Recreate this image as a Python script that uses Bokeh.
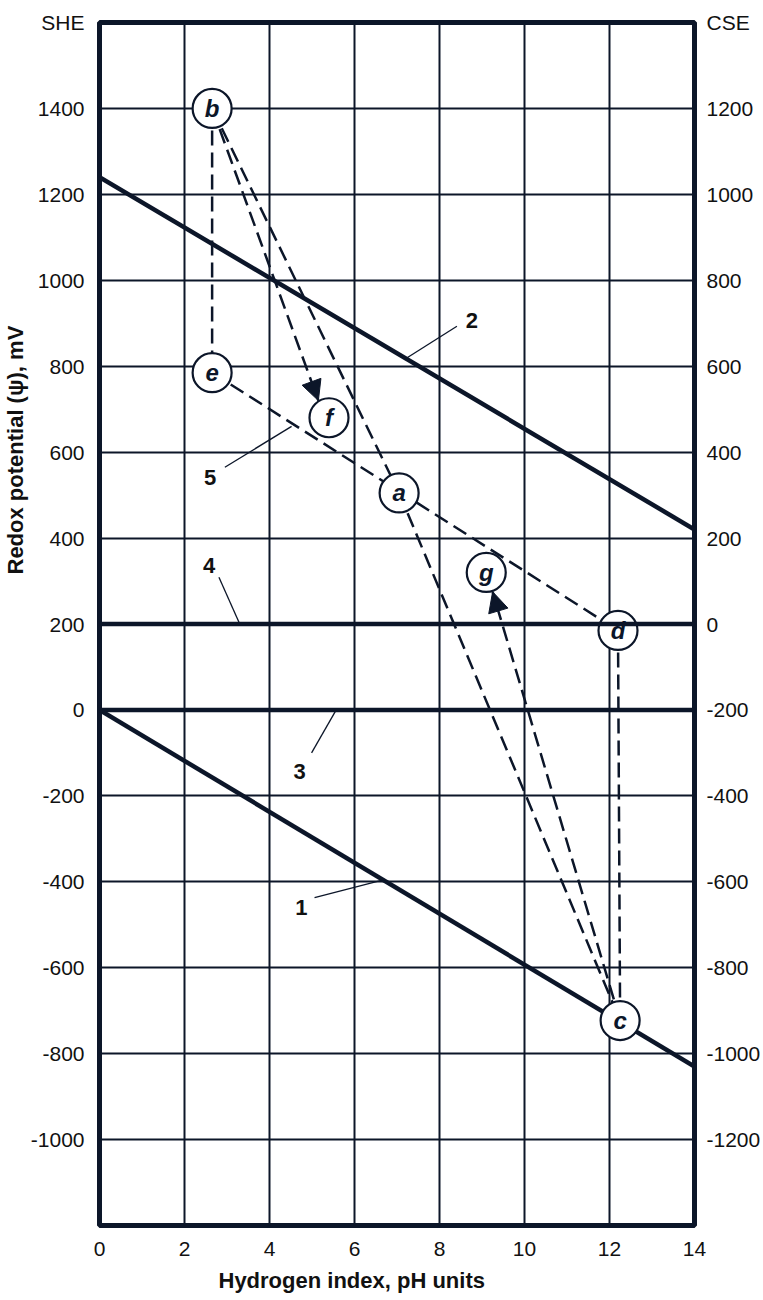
import numpy as np
from bokeh.plotting import figure
from bokeh.models import (Range1d, LinearAxis, FixedTicker, Arrow, NormalHead,
                          Span, Title)
from bokeh.core.properties import value
from bokeh.embed import file_html
from bokeh.resources import INLINE

INK = "#0c1629"
TXT = "#111111"
FONT = "Liberation Sans"

# ---------------- data ----------------
ph_ticks = [0, 2, 4, 6, 8, 10, 12, 14]
ph_grid = [2, 4, 6, 8, 10, 12]
she_ticks = [-1000, -800, -600, -400, -200, 0, 200, 400, 600, 800, 1000, 1200, 1400]
cse_ticks = [-1200, -1000, -800, -600, -400, -200, 0, 200, 400, 600, 800, 1000, 1200]
she_title, she_title_at = "SHE", 1600
cse_title, cse_title_at = "CSE", 1400

line1_ph = [0, 14]
line1_mv = [0, -830]
line2_ph = [0, 14]
line2_mv = [1240, 420]
line3_mv = 0
line4_mv = 200

point_names = ["a", "b", "c", "d", "e", "f", "g"]
point_ph = [7.05, 2.65, 12.25, 12.2, 2.65, 5.4, 9.1]
point_mv = [505, 1400, -723, 185, 785, 680, 320]

dashed_from = ["b", "e", "b", "a", "d", "b", "c"]
dashed_to = ["e", "d", "a", "c", "c", "f", "g"]

arrow_from = ["b", "c"]
arrow_to = ["f", "g"]
arrow_tip_ph = [5.15, 9.25]
arrow_tip_mv = [720, 275]

curve_labels = ["1", "2", "3", "4", "5"]
label_ph = [4.75, 8.76, 4.71, 2.58, 2.6]
label_mv = [-460, 907, -144, 337, 540]
leader_start_ph = [5.06, 8.41, 4.99, 2.81, 2.95]
leader_start_mv = [-437, 893, -100, 309, 565]
leader_end_ph = [6.7, 7.21, 5.57, 3.3, 4.52]
leader_end_mv = [-395, 818, 0, 200, 660]

x_title = "Hydrogen index, pH units"
y_title = "Redox potential (\u03c8), mV"

# ---------------- figure ----------------
p = figure(width=763, height=1300,
           x_range=Range1d(0, 14), y_range=Range1d(-1200, 1600),
           output_backend="svg", toolbar_location=None,
           min_border_left=99, min_border_right=66,
           min_border_top=22, min_border_bottom=74)
p.extra_y_ranges = {"cse": Range1d(-1400, 1400)}
p.background_fill_color = "white"
p.border_fill_color = "white"
p.outline_line_color = INK
p.outline_line_width = 5
p.outline_line_alpha = 1

right_axis = LinearAxis(y_range_name="cse")
p.add_layout(right_axis, "right")

p.xaxis.ticker = FixedTicker(ticks=ph_ticks)
p.yaxis[0].ticker = FixedTicker(ticks=she_ticks + [she_title_at])
right_axis.ticker = FixedTicker(ticks=cse_ticks + [cse_title_at])
left_over = {t: str(t) for t in she_ticks}
left_over[she_title_at] = she_title
right_over = {t: str(t) for t in cse_ticks}
right_over[cse_title_at] = cse_title
p.yaxis[0].major_label_overrides = left_over
right_axis.major_label_overrides = right_over

for ax in [p.xaxis[0], p.yaxis[0], right_axis]:
    ax.axis_line_color = None
    ax.major_tick_line_color = None
    ax.minor_tick_line_color = None
    ax.major_label_text_font = FONT
    ax.major_label_text_font_size = "21px"
    ax.major_label_text_color = TXT
p.xaxis.major_label_standoff = 10
p.yaxis[0].major_label_standoff = 9
right_axis.major_label_standoff = 6

# axis titles as Title objects in the side panels
xt = Title(text=x_title, align="left", offset=119, standoff=15,
           text_font=FONT, text_font_style="bold", text_font_size="22px", text_color=TXT)
p.add_layout(xt, "below")
yt = Title(text=y_title, align="left", offset=651, standoff=0,
           text_font=FONT, text_font_style="bold", text_font_size="22px", text_color=TXT)
p.add_layout(yt, "left")

p.xgrid.ticker = FixedTicker(ticks=ph_grid)
p.ygrid.ticker = FixedTicker(ticks=she_ticks)
p.grid.grid_line_color = INK
p.grid.grid_line_width = 2
p.grid.grid_line_alpha = 1

# thick reference lines
p.line(line1_ph, line1_mv, line_width=4.5, color=INK)
p.line(line2_ph, line2_mv, line_width=4.5, color=INK)
p.add_layout(Span(location=line3_mv, dimension="width", line_color=INK, line_width=4.5))
p.add_layout(Span(location=line4_mv, dimension="width", line_color=INK, line_width=4.5))

pos = {n: (x, y) for n, x, y in zip(point_names, point_ph, point_mv)}
tips = {(f, t): (tx, ty) for f, t, tx, ty in zip(arrow_from, arrow_to, arrow_tip_ph, arrow_tip_mv)}

# dashed connections (arrow shafts end at their tips)
x0, y0, x1, y1 = [], [], [], []
for f, t in zip(dashed_from, dashed_to):
    end = tips.get((f, t), pos[t])
    x0.append(pos[f][0]); y0.append(pos[f][1])
    x1.append(end[0]); y1.append(end[1])
p.segment(x0, y0, x1, y1, line_color=INK, line_width=2.5, line_dash="15 7")

for f, tx, ty in zip(arrow_from, arrow_tip_ph, arrow_tip_mv):
    p.add_layout(Arrow(end=NormalHead(size=20, fill_color=INK, line_color=INK, line_width=1),
                       x_start=pos[f][0], y_start=pos[f][1], x_end=tx, y_end=ty,
                       line_color=None))

# leader lines and curve labels
p.segment(leader_start_ph, leader_start_mv, leader_end_ph, leader_end_mv,
          line_color=INK, line_width=1.3)
p.text(label_ph, label_mv, text=curve_labels, text_font=value(FONT),
       text_font_style="bold", text_font_size="22px", text_color=TXT,
       text_align="center", text_baseline="middle")

# point circles
p.scatter(point_ph, point_mv, size=39, fill_color="white", line_color=INK, line_width=2.2)
p.text(point_ph, point_mv, text=point_names, text_font=value(FONT),
       text_font_style="bold italic", text_font_size="24px", text_color=INK,
       text_align="center", text_baseline="middle")

open("out.html", "w").write(file_html(p, INLINE))
